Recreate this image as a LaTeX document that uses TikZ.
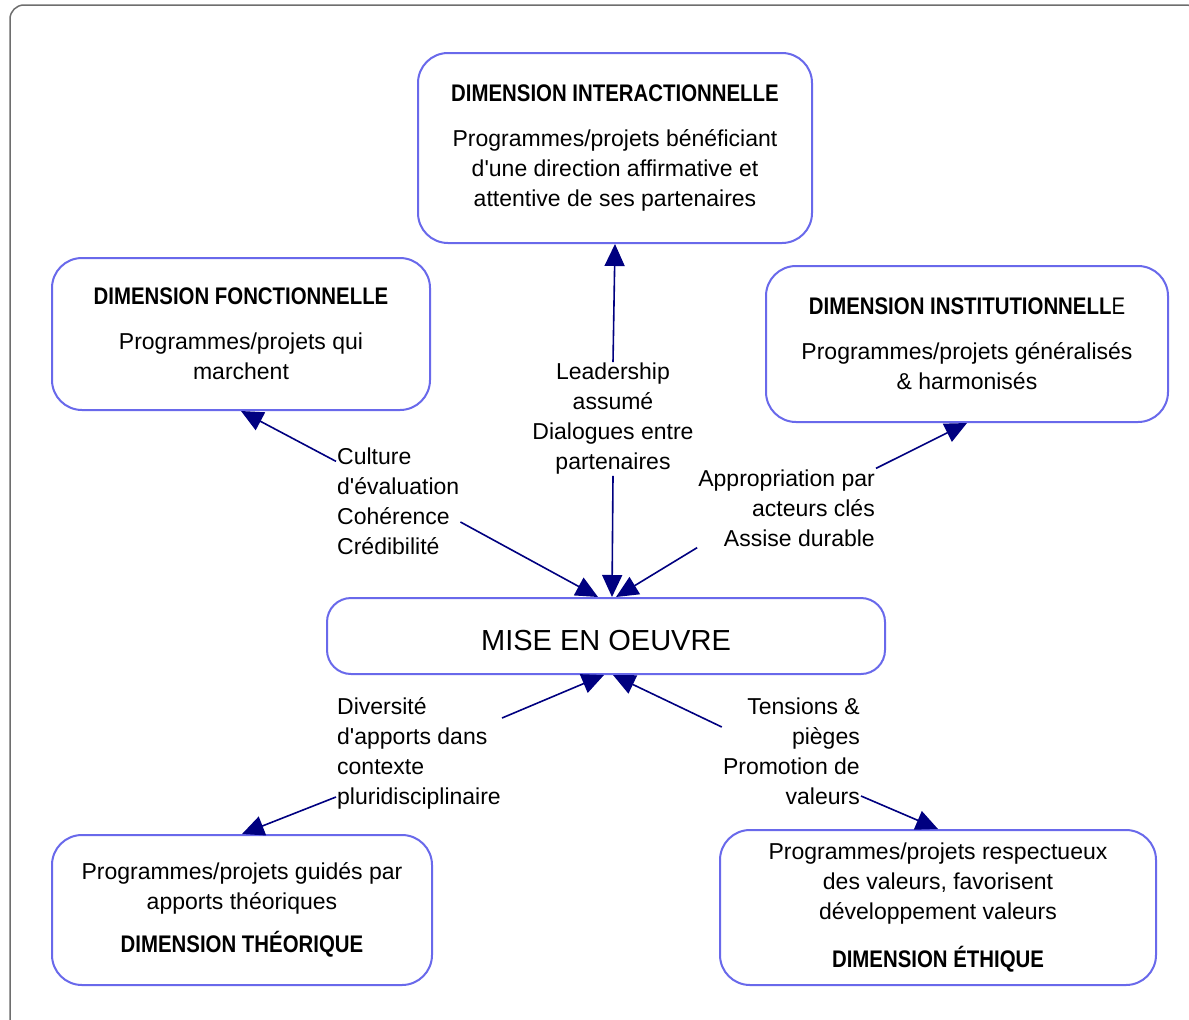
\documentclass[tikz,border=0pt]{standalone}
\usepackage{fontspec}
\setmainfont{Liberation Sans}
\newfontfamily\titlefont[FakeStretch=0.85]{Liberation Sans}
\usetikzlibrary{arrows.meta,positioning}
\definecolor{boxblue}{RGB}{105,105,235}
\definecolor{navy}{RGB}{0,0,128}
\definecolor{framegray}{RGB}{110,110,110}
\newcommand{\dimtitle}[1]{{\titlefont\bfseries\fontsize{24}{30}\selectfont #1}}
\newcommand{\apos}{\textquotesingle}

\begin{document}
\begin{tikzpicture}[x=1pt,y=-1pt,
  dimbox/.style={draw=boxblue, line width=2pt, rounded corners=30pt, align=center, inner sep=0pt, font=\fontsize{23}{30}\selectfont},
  centerbox/.style={dimbox, rounded corners=24pt, font=\fontsize{29}{34}\selectfont},
  linklabel/.style={inner sep=1pt, font=\fontsize{23}{30}\selectfont},
  flow/.style={draw=navy, line width=1.6pt, -{Triangle[length=22pt,width=20pt]}}
]
\useasboundingbox (0,0) rectangle (1189,1020);
\fill[white] (0,0) rectangle (1189,1020);
\begin{scope}
  \clip (0,0) rectangle (1189,1020);
  \draw[framegray, line width=1.5pt, rounded corners=14pt] (10,5) rectangle (1200,1032);
\end{scope}

% the five dimensions
\node[dimbox, minimum width=394pt, minimum height=190pt] (inter) at (615,148)
  {\dimtitle{DIMENSION INTERACTIONNELLE}\\[15pt]
   Programmes/projets bénéficiant\\ d\apos une direction affirmative et\\ attentive de ses partenaires};
\node[dimbox, minimum width=378pt, minimum height=152pt] (fonc) at (241,334)
  {\dimtitle{DIMENSION FONCTIONNELLE}\\[15pt]
   Programmes/projets qui\\ marchent};
\node[dimbox, minimum width=402pt, minimum height=156pt] (inst) at (967,344)
  {\dimtitle{DIMENSION INSTITUTIONNELL{\mdseries E}}\\[15pt]
   Programmes/projets généralisés\\ \& harmonisés};
\node[dimbox, minimum width=380pt, minimum height=150pt] (theo) at (242,910)
  {Programmes/projets guidés par\\ apports théoriques\\[13pt]
   \dimtitle{DIMENSION THÉORIQUE}};
\node[dimbox, minimum width=436pt, minimum height=155pt] (eth) at (938,907.5)
  {Programmes/projets respectueux\\ des valeurs, favorisent\\ développement valeurs\\[18pt]
   \dimtitle{DIMENSION ÉTHIQUE}};

% centre
\node[centerbox, minimum width=558pt, minimum height=76pt] (mise) at (606,636)
  {\raisebox{-5pt}[\height][\depth]{MISE EN OEUVRE}};

% labels on the links
\node[linklabel, align=center] (lead) at (613,419) {Leadership\\ assumé\\ Dialogues entre\\ partenaires};
\node[linklabel, align=left, anchor=west] (cult) at (336,501) {Culture\\ d\apos évaluation\\ Cohérence\\ Crédibilité};
\node[linklabel, align=right, anchor=east] (appr) at (876,508) {Appropriation par\\ acteurs clés\\ Assise durable};
\node[linklabel, align=left, anchor=west] (div) at (336,753) {Diversité\\ d\apos apports dans\\ contexte\\ pluridisciplinaire};
\node[linklabel, align=right, anchor=east] (tens) at (861,751) {Tensions \&\\ pièges\\ Promotion de\\ valeurs};

\draw[flow] (lead.north) -- (inter.south);
\draw[flow] (lead.south) -- ([xshift=6pt]mise.north);
\draw[flow] ([yshift=-15pt]cult.north west) -- (fonc.south);
\draw[flow] ([yshift=-21pt]cult.east) -- ([xshift=-8pt]mise.north);
\draw[flow] (appr.north east) -- (inst.south);
\draw[flow] (appr.south west) -- ([xshift=10pt]mise.north);
\draw[flow] ([yshift=35pt]div.east) -- ([xshift=-2pt]mise.south);
\draw[flow] ([yshift=-44pt]div.west) -- (theo.north);
\draw[flow] ([yshift=24pt]tens.west) -- ([xshift=7pt]mise.south);
\draw[flow] ([yshift=-45pt]tens.east) -- (eth.north);
\end{tikzpicture}
\end{document}
